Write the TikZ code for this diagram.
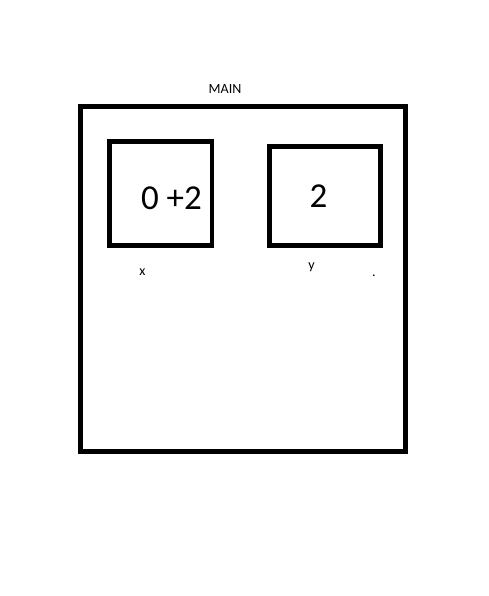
\documentclass[tikz,border=0pt]{standalone}
\usepackage{fontspec}
\setmainfont{Carlito}
\begin{document}
\begin{tikzpicture}[x=1pt,y=-1pt,
  frame/.style={draw=black,line width=5pt},
  box/.style={draw=black,line width=4.8pt},
  lbl/.style={inner sep=0pt,anchor=base,font=\fontsize{14}{16}\selectfont},
  val/.style={inner sep=0pt,anchor=base,font=\fontsize{35}{40}\selectfont}]
\useasboundingbox[fill=white] (0,0) rectangle (489,596);
\draw[frame] (80.5,106.5) rectangle (405.5,451.5);
\draw[box] (109.5,141.5) rectangle (212,245.5);
\draw[box] (269.5,146.5) rectangle (380.5,245.5);
\node[lbl] (main) at (225,94) {MAIN};
\node[val] (xv) at (171.5,209) {0 +2};
\node[val] (yv) at (318.5,207) {2};
\node[lbl] (xl) at (142.3,275.5) {x};
\node[lbl] (yl) at (311.5,269) {y};
\node[lbl] (dot) at (374,276) {.};
\end{tikzpicture}
\end{document}
